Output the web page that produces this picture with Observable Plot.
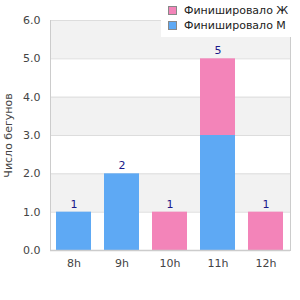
<!DOCTYPE html>
<html><head><meta charset="utf-8">
<script src="https://cdn.jsdelivr.net/npm/d3@7"></script>
<script src="https://cdn.jsdelivr.net/npm/@observablehq/plot@0.6"></script>
<style>
body{margin:0;background:#fff;font-family:"DejaVu Sans",sans-serif;}
#wrap{position:relative;width:300px;height:300px;}
#legend{position:absolute;left:161px;top:0;width:139px;height:37px;background:#fff;font-size:11px;color:#222;}
.li{position:absolute;left:7px;display:flex;align-items:center;}
.sw{width:9px;height:9px;border:1px solid #888;margin-right:7px;box-sizing:border-box;}
</style></head>
<body><div id="wrap"><div id="legend"></div></div>
<script>
const hours = ["8h","9h","10h","11h","12h"];
const seriesNames = ["Финишировало М","Финишировало Ж"];
const male = [1,2,0,3,0];
const female = [0,0,1,2,1];
const colors = ["#5ea9f4","#f384b9"];
const yTicks = [0,1,2,3,4,5,6];
const bands = [[1,2],[3,4],[5,6]];

const rows = [];
hours.forEach((h,i)=>{
  rows.push({hour:h, series:seriesNames[0], value:male[i]});
  rows.push({hour:h, series:seriesNames[1], value:female[i]});
});
const totals = hours.map((h,i)=>({hour:h, total:male[i]+female[i]}));

const chart = Plot.plot({
  width:300, height:300,
  marginLeft:50, marginRight:10, marginTop:20, marginBottom:50,
  style:{fontFamily:"DejaVu Sans, sans-serif", fontSize:"11px", color:"#444"},
  x:{domain:hours, paddingInner:0.27, paddingOuter:0.135, align:0.5, label:null, tickSize:0, tickPadding:9},
  y:{domain:[0,6], ticks:yTicks, tickFormat:d=>d.toFixed(1), label:"Число бегунов", labelAnchor:"center", labelArrow:"none", labelOffset:46, tickSize:0, tickPadding:10},
  color:{domain:seriesNames, range:colors},
  marks:[
    Plot.rect(bands,{y1:d=>d[0], y2:d=>d[1], fill:"#f2f2f2"}),
    Plot.ruleY(yTicks,{stroke:"#dddddd"}),
    Plot.barY(rows,{x:"hour", y:"value", fill:"series", order:seriesNames}),
    Plot.text(totals.filter(d=>d.total>0),{x:"hour", y:"total", text:d=>String(d.total), dy:-8, fill:"#1a1a8a", fontSize:11}),
    Plot.ruleY([0],{stroke:"#cccccc", strokeWidth:1.5}),
    Plot.frame({anchor:"left", stroke:"#cccccc"}),
    Plot.frame({anchor:"right", stroke:"#cccccc"})
  ]
});
document.getElementById("wrap").prepend(chart);

const leg = document.getElementById("legend");
[seriesNames[1], seriesNames[0]].forEach((s,i)=>{
  const d = document.createElement("div");
  d.className="li"; d.style.top=(4+i*15)+"px";
  const sw=document.createElement("div"); sw.className="sw"; sw.style.background=colors[seriesNames.indexOf(s)];
  const t=document.createElement("span"); t.textContent=s;
  d.append(sw,t); leg.append(d);
});
</script></body></html>
